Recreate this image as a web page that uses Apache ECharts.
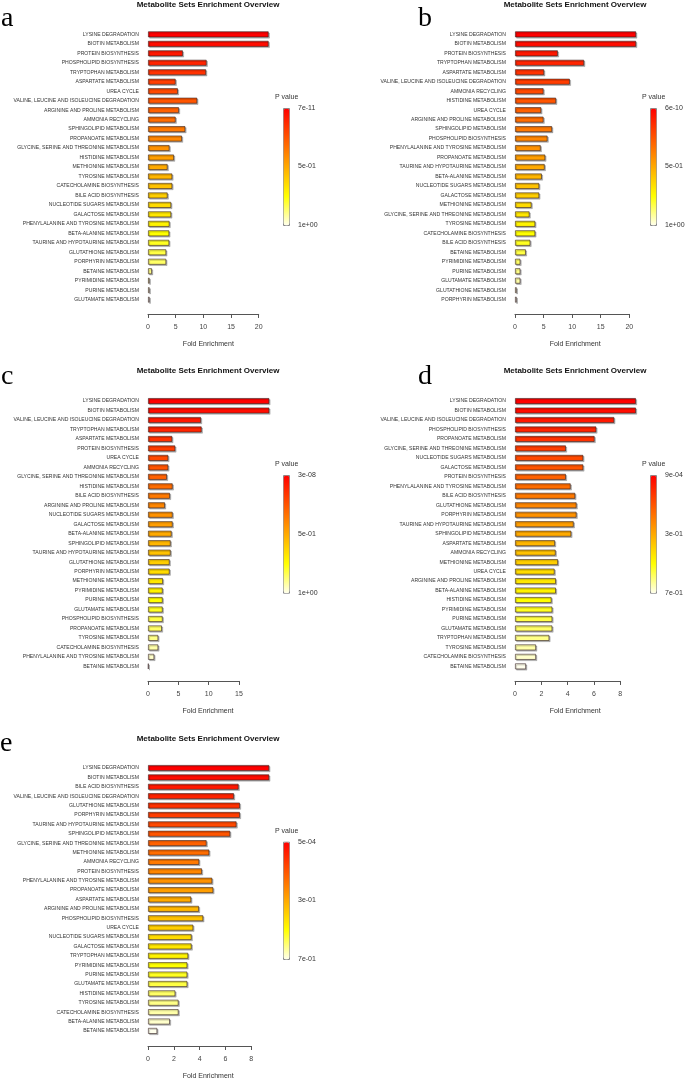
<!DOCTYPE html>
<html>
<head>
<meta charset="utf-8">
<script src="https://cdn.jsdelivr.net/npm/echarts@6/dist/echarts.min.js"></script>
<style>
html,body{margin:0;padding:0;background:#fff;}
#chart{width:685px;height:1081px;}
</style>
</head>
<body>
<div id="chart"></div>
<script>
// ---------------- DATA ----------------
const chartTitle = 'Metabolite Sets Enrichment Overview';
const axisName = 'Fold Enrichment';
const legendTitle = 'P value';

const catsA = ['LYSINE DEGRADATION','BIOTIN METABOLISM','PROTEIN BIOSYNTHESIS','PHOSPHOLIPID BIOSYNTHESIS','TRYPTOPHAN METABOLISM','ASPARTATE METABOLISM','UREA CYCLE','VALINE, LEUCINE AND ISOLEUCINE DEGRADATION','ARGININE AND PROLINE METABOLISM','AMMONIA RECYCLING','SPHINGOLIPID METABOLISM','PROPANOATE METABOLISM','GLYCINE, SERINE AND THREONINE METABOLISM','HISTIDINE METABOLISM','METHIONINE METABOLISM','TYROSINE METABOLISM','CATECHOLAMINE BIOSYNTHESIS','BILE ACID BIOSYNTHESIS','NUCLEOTIDE SUGARS METABOLISM','GALACTOSE METABOLISM','PHENYLALANINE AND TYROSINE METABOLISM','BETA-ALANINE METABOLISM','TAURINE AND HYPOTAURINE METABOLISM','GLUTATHIONE METABOLISM','PORPHYRIN METABOLISM','BETAINE METABOLISM','PYRIMIDINE METABOLISM','PURINE METABOLISM','GLUTAMATE METABOLISM'];
const valsA = [21.8,21.8,6.3,10.6,10.5,5.0,5.4,8.9,5.6,5.0,6.75,6.15,3.9,4.7,3.55,4.4,4.4,3.55,4.2,4.2,3.9,3.85,3.85,3.3,3.3,0.72,0.3,0.3,0.3];
const ticksA = [0,5,10,15,20];
const pLabelsA = ['7e-11','5e-01','1e+00'];

const catsB = ['LYSINE DEGRADATION','BIOTIN METABOLISM','PROTEIN BIOSYNTHESIS','TRYPTOPHAN METABOLISM','ASPARTATE METABOLISM','VALINE, LEUCINE AND ISOLEUCINE DEGRADATION','AMMONIA RECYCLING','HISTIDINE METABOLISM','UREA CYCLE','ARGININE AND PROLINE METABOLISM','SPHINGOLIPID METABOLISM','PHOSPHOLIPID BIOSYNTHESIS','PHENYLALANINE AND TYROSINE METABOLISM','PROPANOATE METABOLISM','TAURINE AND HYPOTAURINE METABOLISM','BETA-ALANINE METABOLISM','NUCLEOTIDE SUGARS METABOLISM','GALACTOSE METABOLISM','METHIONINE METABOLISM','GLYCINE, SERINE AND THREONINE METABOLISM','TYROSINE METABOLISM','CATECHOLAMINE BIOSYNTHESIS','BILE ACID BIOSYNTHESIS','BETAINE METABOLISM','PYRIMIDINE METABOLISM','PURINE METABOLISM','GLUTAMATE METABOLISM','GLUTATHIONE METABOLISM','PORPHYRIN METABOLISM'];
const valsB = [21.2,21.2,7.5,12.1,5.1,9.6,5.0,7.2,4.6,5.0,6.5,5.7,4.5,5.3,5.2,4.7,4.25,4.25,2.9,2.55,3.55,3.55,2.7,1.9,0.95,0.95,0.95,0.3,0.3];
const ticksB = [0,5,10,15,20];
const pLabelsB = ['6e-10','5e-01','1e+00'];

const catsC = ['LYSINE DEGRADATION','BIOTIN METABOLISM','VALINE, LEUCINE AND ISOLEUCINE DEGRADATION','TRYPTOPHAN METABOLISM','ASPARTATE METABOLISM','PROTEIN BIOSYNTHESIS','UREA CYCLE','AMMONIA RECYCLING','GLYCINE, SERINE AND THREONINE METABOLISM','HISTIDINE METABOLISM','BILE ACID BIOSYNTHESIS','ARGININE AND PROLINE METABOLISM','NUCLEOTIDE SUGARS METABOLISM','GALACTOSE METABOLISM','BETA-ALANINE METABOLISM','SPHINGOLIPID METABOLISM','TAURINE AND HYPOTAURINE METABOLISM','GLUTATHIONE METABOLISM','PORPHYRIN METABOLISM','METHIONINE METABOLISM','PYRIMIDINE METABOLISM','PURINE METABOLISM','GLUTAMATE METABOLISM','PHOSPHOLIPID BIOSYNTHESIS','PROPANOATE METABOLISM','TYROSINE METABOLISM','CATECHOLAMINE BIOSYNTHESIS','PHENYLALANINE AND TYROSINE METABOLISM','BETAINE METABOLISM'];
const valsC = [20.0,20.0,8.74,8.85,4.0,4.5,3.35,3.35,3.13,4.07,3.63,2.8,4.07,4.07,3.9,3.74,3.74,3.57,3.57,2.47,2.42,2.42,2.42,2.42,2.3,1.7,1.7,1.04,0.1];
const ticksC = [0,5,10,15];
const pLabelsC = ['3e-08','5e-01','1e+00'];

const catsD = ['LYSINE DEGRADATION','BIOTIN METABOLISM','VALINE, LEUCINE AND ISOLEUCINE DEGRADATION','PHOSPHOLIPID BIOSYNTHESIS','PROPANOATE METABOLISM','GLYCINE, SERINE AND THREONINE METABOLISM','NUCLEOTIDE SUGARS METABOLISM','GALACTOSE METABOLISM','PROTEIN BIOSYNTHESIS','PHENYLALANINE AND TYROSINE METABOLISM','BILE ACID BIOSYNTHESIS','GLUTATHIONE METABOLISM','PORPHYRIN METABOLISM','TAURINE AND HYPOTAURINE METABOLISM','SPHINGOLIPID METABOLISM','ASPARTATE METABOLISM','AMMONIA RECYCLING','METHIONINE METABOLISM','UREA CYCLE','ARGININE AND PROLINE METABOLISM','BETA-ALANINE METABOLISM','HISTIDINE METABOLISM','PYRIMIDINE METABOLISM','PURINE METABOLISM','GLUTAMATE METABOLISM','TRYPTOPHAN METABOLISM','TYROSINE METABOLISM','CATECHOLAMINE BIOSYNTHESIS','BETAINE METABOLISM'];
const valsD = [9.19,9.19,7.54,6.18,6.05,3.87,5.19,5.19,3.87,4.23,4.58,4.68,4.68,4.46,4.28,3.04,3.09,3.27,3.01,3.11,3.11,2.78,2.84,2.84,2.84,2.61,1.6,1.6,0.84];
const ticksD = [0,2,4,6,8];
const pLabelsD = ['9e-04','3e-01','7e-01'];

const catsE = ['LYSINE DEGRADATION','BIOTIN METABOLISM','BILE ACID BIOSYNTHESIS','VALINE, LEUCINE AND ISOLEUCINE DEGRADATION','GLUTATHIONE METABOLISM','PORPHYRIN METABOLISM','TAURINE AND HYPOTAURINE METABOLISM','SPHINGOLIPID METABOLISM','GLYCINE, SERINE AND THREONINE METABOLISM','METHIONINE METABOLISM','AMMONIA RECYCLING','PROTEIN BIOSYNTHESIS','PHENYLALANINE AND TYROSINE METABOLISM','PROPANOATE METABOLISM','ASPARTATE METABOLISM','ARGININE AND PROLINE METABOLISM','PHOSPHOLIPID BIOSYNTHESIS','UREA CYCLE','NUCLEOTIDE SUGARS METABOLISM','GALACTOSE METABOLISM','TRYPTOPHAN METABOLISM','PYRIMIDINE METABOLISM','PURINE METABOLISM','GLUTAMATE METABOLISM','HISTIDINE METABOLISM','TYROSINE METABOLISM','CATECHOLAMINE BIOSYNTHESIS','BETA-ALANINE METABOLISM','BETAINE METABOLISM'];
const valsE = [9.39,9.39,7.02,6.66,7.12,7.12,6.86,6.37,4.54,4.75,3.97,4.18,4.98,5.06,3.35,3.95,4.28,3.51,3.38,3.38,3.12,3.05,3.05,3.05,2.12,2.37,2.37,1.7,0.72];
const ticksE = [0,2,4,6,8];
const pLabelsE = ['5e-04','3e-01','7e-01'];

const panelLetters = ['a','b','c','d','e'];
const heatColors = ['#FF0000','#FF5500','#FFAA00','#FFFF00','#FFFFED'];

// ---------------- LAYOUT ----------------
const layout = [
  {cats:catsA, vals:valsA, ticks:ticksA, p:pLabelsA, left:148, width:110.7, top:29.6, off:9.6, namePad:10,
   tx:208, ty:4.5, lx:1, ly:19, legX:283, legTop:108, legH:117},
  {cats:catsB, vals:valsB, ticks:ticksB, p:pLabelsB, left:515, width:114.3, top:29.6, off:9.6, namePad:6,
   tx:575, ty:4.5, lx:418, ly:19, legX:650, legTop:108, legH:117},
  {cats:catsC, vals:valsC, ticks:ticksC, p:pLabelsC, left:148, width:91, top:396.3, off:9.9, namePad:29,
   tx:208, ty:371, lx:1, ly:377, legX:283, legTop:475, legH:117.7},
  {cats:catsD, vals:valsD, ticks:ticksD, p:pLabelsD, left:515, width:105.3, top:396.3, off:9.9, namePad:15,
   tx:575, ty:371, lx:418, ly:377, legX:650, legTop:475, legH:117.7},
  {cats:catsE, vals:valsE, ticks:ticksE, p:pLabelsE, left:148, width:103.3, top:763.3, off:10.4, namePad:17,
   tx:208, ty:738.3, lx:0, ly:744, legX:283, legTop:841.7, legH:117.3}
];
const ROW = 9.475;
const SANS = 'Arial, "Liberation Sans", Helvetica, sans-serif';

const grids=[], xAxes=[], yAxes=[], series=[], visualMaps=[], graphics=[];
layout.forEach((L,i)=>{
  const n = L.cats.length;
  const tmax = L.ticks[L.ticks.length-1];
  grids.push({left:L.left, top:L.top, width:L.width, height:n*ROW, containLabel:false});
  xAxes.push({
    gridIndex:i, type:'value', min:0, max:tmax, interval:L.ticks[1]-L.ticks[0],
    position:'bottom', offset:L.off,
    axisLine:{show:true, lineStyle:{color:'#555', width:1}},
    axisTick:{show:true, length:4, lineStyle:{color:'#555'}},
    axisLabel:{fontSize:7, color:'#444', margin:10, fontFamily:SANS},
    splitLine:{show:false},
    name:axisName, nameLocation:'middle', nameGap:27,
    nameTextStyle:{fontSize:7, color:'#333', fontFamily:SANS, padding:[0,0,0,L.namePad]}
  });
  yAxes.push({
    gridIndex:i, type:'category', data:L.cats, inverse:true,
    axisLine:{show:false}, axisTick:{show:false}, splitLine:{show:false},
    axisLabel:{interval:0, fontSize:5.1, color:'#333', margin:9, fontFamily:SANS}
  });
  series.push({
    type:'bar', xAxisIndex:i, yAxisIndex:i, clip:false, barWidth:6,
    encode:{x:0, y:1},
    data:L.vals.map((v,j)=>[v,j]),
    itemStyle:{borderColor:'rgba(50,30,30,0.75)', borderWidth:0.8,
      shadowColor:'rgba(0,0,0,0.28)', shadowOffsetX:1.2, shadowOffsetY:1.2, shadowBlur:0},
    emphasis:{disabled:true}
  });
  visualMaps.push({
    type:'continuous', seriesIndex:i, dimension:1, min:0, max:n-1, inverse:true,
    calculable:false, hoverLink:false, orient:'vertical',
    left:L.legX, top:L.legTop, itemWidth:6, itemHeight:L.legH,
    padding:0, borderWidth:1, borderColor:'#888', text:null,
    inRange:{color:heatColors}
  });
  graphics.push({type:'text', x:L.tx, y:L.ty, style:{text:chartTitle, font:'bold 8px '+SANS, fill:'#111', align:'center', verticalAlign:'middle'}});
  graphics.push({type:'text', x:L.lx, y:L.ly, style:{text:panelLetters[i], font:'28px "Liberation Serif", "DejaVu Serif", serif', fill:'#000', align:'left', verticalAlign:'middle'}});
  graphics.push({type:'text', x:L.legX-8, y:L.legTop-11, style:{text:legendTitle, font:'7px '+SANS, fill:'#333', align:'left', verticalAlign:'middle'}});
  L.p.forEach((t,k)=>{
    graphics.push({type:'text', x:L.legX+15, y:L.legTop + L.legH*k/2, style:{text:t, font:'7px '+SANS, fill:'#333', align:'left', verticalAlign:'middle'}});
  });
});

const chart = echarts.init(document.getElementById('chart'), null, {renderer:'canvas'});
chart.setOption({
  animation:false,
  backgroundColor:'#ffffff',
  grid:grids, xAxis:xAxes, yAxis:yAxes, series:series,
  visualMap:visualMaps, graphic:graphics
});
</script>
</body>
</html>
